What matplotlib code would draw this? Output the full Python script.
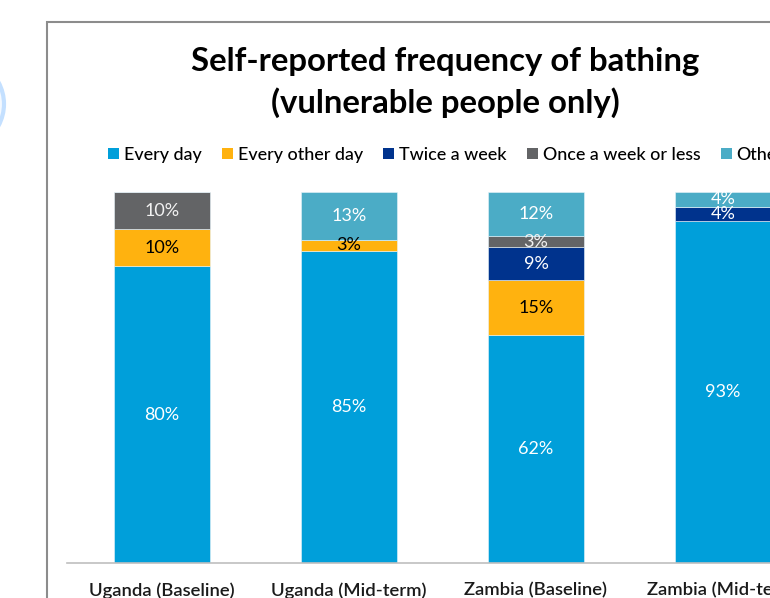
import matplotlib
matplotlib.use("Agg")
import matplotlib.pyplot as plt
from matplotlib.patches import Rectangle, Circle
import numpy as np

plt.rcParams['font.family'] = ['Lato', 'DejaVu Sans']

categories = ["Uganda (Baseline)", "Uganda (Mid-term)", "Zambia (Baseline)", "Zambia (Mid-term)"]
series = ["Every day", "Every other day", "Twice a week", "Once a week or less", "Other"]
every_day = [80, 85, 62, 93]
every_other_day = [10, 3, 15, 0]
twice_a_week = [0, 0, 9, 4]
once_a_week = [10, 0, 3, 0]
other = [0, 13, 12, 4]

colors = ["#009FDA", "#FFB20F", "#00338D", "#636466", "#4BACC6"]
label_colors = ["white", "black", "white", "#F2F2F2", "white"]

values = np.array([every_day, every_other_day, twice_a_week, once_a_week, other], dtype=float)
totals = values.sum(axis=0)
fracs = values / totals

W, H = 770, 598
fig = plt.figure(figsize=(W / 100, H / 100), dpi=100)

# chart border (cropped)
fig.patches.append(Rectangle((47 / W, -0.2), 2.0, (598 - 22) / H + 0.2, transform=fig.transFigure,
                             fill=False, edgecolor="#8C8C8C", linewidth=1.5))
# partial blue circle at left edge
fig.patches.append(Circle((-70 / W, (598 - 104) / H), 74 / W, transform=fig.transFigure,
                          facecolor="#F4F9FF", edgecolor="#C4E0FF", linewidth=3))

ax = fig.add_axes([67 / W, (H - 563) / H, 1 - 67 / W, 371 / H])
x = np.arange(len(categories))
bottom = np.zeros(len(categories))
for i, s in enumerate(series):
    bars = ax.bar(x, fracs[i], 0.513, bottom=bottom, color=colors[i], label=s,
                  edgecolor="#E8F4FA", linewidth=0.4)
    for j, b in enumerate(bars):
        if values[i, j] > 0:
            ax.text(x[j], bottom[j] + fracs[i, j] / 2, f"{int(values[i, j])}%",
                    ha="center", va="center", color=label_colors[i], fontsize=13)
    bottom += fracs[i]

ax.set_xlim((67 - 162) / 187, (770 - 162) / 187)
ax.set_ylim(0, 1)
for sp in ["top", "right", "left"]:
    ax.spines[sp].set_visible(False)
ax.spines["bottom"].set_color("#BFBFBF")
ax.spines["bottom"].set_linewidth(1.2)
ax.set_yticks([])
ax.set_xticks(x)
ax.set_xticklabels(categories, fontsize=13.3, fontweight="semibold", color="#1A1A1A")
ax.tick_params(axis="x", length=0, pad=14)

fig.text(445 / W, (H - 62) / H, "Self-reported frequency of bathing", ha="center", va="center",
         fontsize=23.7, fontweight="bold")
fig.text(445 / W, (H - 103) / H, "(vulnerable people only)", ha="center", va="center",
         fontsize=23.7, fontweight="bold")

leg = ax.legend(loc="center left", bbox_to_anchor=(108 / W, (H - 155) / H), bbox_transform=fig.transFigure,
                ncol=5, frameon=False, prop={'size': 12.9, 'weight': 'medium'}, handlelength=0.62, handleheight=0.62,
                handletextpad=0.25, columnspacing=1.15, borderaxespad=0, borderpad=0)
for h in leg.legend_handles:
    h.set_edgecolor("none")

fig.savefig("out.png", dpi=100)
